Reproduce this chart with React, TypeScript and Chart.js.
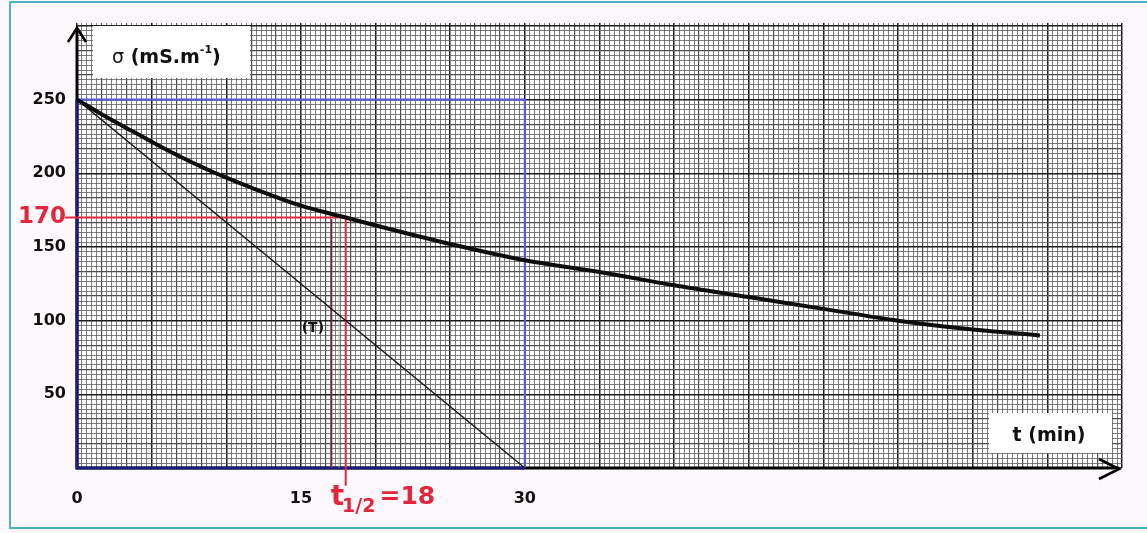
import React, { useEffect, useRef } from "react";
import { Chart, registerables } from "chart.js";

Chart.register(...registerables);

// ---- data ----
const CURVE_T = [0, 2, 4, 6, 8, 10, 12, 15, 18, 21, 25, 30, 35, 40, 45, 50, 55, 60, 64.5];
const CURVE_SIGMA = [250, 238, 227, 216, 206, 197, 189, 178, 170, 162, 152, 141, 133, 124, 116, 108, 100, 94, 90];
const TANGENT_T = [0, 30];
const TANGENT_SIGMA = [250, 0];
const X_TICK_VALUES = [0, 15, 30];
const Y_TICK_VALUES = [50, 100, 150, 170, 200, 250];
const SIGMA_0 = 250;
const SIGMA_HALF = 170;
const T_HALF = 18;
const T_TAU = 30;
const X_MAX = 70;
const Y_MAX = 302;
const FINE_PER_MIN = 3; // graph-paper fine lines per minute
const FINE_PER_UNIT = 0.3; // graph-paper fine lines per mS/m

const FONT = "'DejaVu Sans', sans-serif";
const RED = "#e3263c";
const NAVY = "#1d1d7c";
const BLUE = "#5b5bd6";

const xy = (xs: number[], ys: number[]) => xs.map((x, i) => ({ x, y: ys[i] }));

const lineDs = (data: any[], color: string, width: number, extra: any = {}) => ({
  data,
  borderColor: color,
  borderWidth: width,
  pointRadius: 0,
  fill: false,
  tension: 0,
  ...extra,
});

const gridColor = (ctx: any) => {
  const v = ctx.tick ? ctx.tick.value : 0;
  if (v % 15 === 0) return "#1c1c1c";
  if (v % 5 === 0) return "#4e4e4e";
  return "rgba(95,95,95,0.8)";
};
const gridWidth = (ctx: any) => {
  const v = ctx.tick ? ctx.tick.value : 0;
  if (v % 15 === 0) return 1.5;
  if (v % 5 === 0) return 1.2;
  return 1;
};

const paperPlugin = {
  id: "paper",
  beforeDraw(chart: any) {
    const c = chart.ctx;
    const a = chart.chartArea;
    c.save();
    c.fillStyle = "#fdf9fd";
    c.fillRect(0, 0, chart.width, chart.height);
    c.strokeStyle = "#4fb0c2";
    c.lineWidth = 2;
    c.strokeRect(10, 2, chart.width + 20, 526);
    c.fillStyle = "#ffffff";
    c.fillRect(a.left, a.top, a.right - a.left, a.bottom - a.top);
    c.restore();
  },
  beforeDatasetsDraw(chart: any) {
    const c = chart.ctx;
    const x = chart.scales.x;
    const y = chart.scales.y;
    const a = chart.chartArea;
    const x0 = x.getPixelForValue(0);
    const y0 = y.getPixelForValue(0);
    c.save();
    // white label boxes
    c.fillStyle = "#ffffff";
    c.fillRect(a.left + 16, a.top + 3, 157, 52);
    c.fillRect(a.right - 133, a.bottom - 55, 123, 40);
    // axes
    c.strokeStyle = "#000";
    c.lineWidth = 3;
    c.lineCap = "butt";
    c.beginPath();
    c.moveTo(x0, y0 + 1);
    c.lineTo(x0, a.top + 6);
    c.moveTo(x0 - 1, y0);
    c.lineTo(a.right - 3, y0);
    c.stroke();
    // arrow heads
    c.lineWidth = 2.6;
    c.lineJoin = "miter";
    c.beginPath();
    c.moveTo(x0 - 9, a.top + 19);
    c.lineTo(x0, a.top + 5);
    c.lineTo(x0 + 9, a.top + 19);
    c.moveTo(a.right - 23, y0 - 9);
    c.lineTo(a.right - 3, y0 + 1);
    c.lineTo(a.right - 23, y0 + 11);
    c.stroke();
    c.restore();
  },
  afterDraw(chart: any) {
    const c = chart.ctx;
    const x = chart.scales.x;
    const y = chart.scales.y;
    const a = chart.chartArea;
    c.save();
    c.fillStyle = "#111";
    c.textBaseline = "alphabetic";
    c.textAlign = "left";
    // sigma label
    let px = a.left + 35;
    const by = a.top + 40;
    c.font = `19px ${FONT}`;
    c.fillText("σ", px, by);
    px += c.measureText("σ").width;
    c.font = `bold 19px ${FONT}`;
    c.fillText(" (mS.m", px, by);
    px += c.measureText(" (mS.m").width;
    c.font = `bold 11px ${FONT}`;
    c.fillText("-1", px, by - 10);
    px += c.measureText("-1").width;
    c.font = `bold 19px ${FONT}`;
    c.fillText(")", px, by);
    // t (min)
    c.textAlign = "center";
    c.font = `bold 19px ${FONT}`;
    c.fillText("t (min)", a.right - 73, a.bottom - 27);
    // (T)
    c.font = `bold 14px ${FONT}`;
    c.fillText("(T)", x.getPixelForValue(15.8), y.getPixelForValue(92));
    // t1/2 = 18
    c.fillStyle = RED;
    c.textAlign = "left";
    let tx = x.getPixelForValue(T_HALF) - 15;
    const ty = y.getPixelForValue(0) + 37;
    c.font = `bold 28px ${FONT}`;
    c.fillText("t", tx, ty);
    tx += c.measureText("t").width - 2;
    c.font = `bold 19px ${FONT}`;
    c.fillText("1/2", tx, ty + 7);
    tx += c.measureText("1/2").width + 4;
    c.font = `bold 25px ${FONT}`;
    c.fillText("=" + T_HALF, tx, ty - 1);
    c.restore();
  },
};

export default function App() {
  const ref = useRef<HTMLCanvasElement>(null);

  useEffect(() => {
    const canvas = ref.current as HTMLCanvasElement;
    const chart = new Chart(canvas, {
      type: "line",
      data: {
        datasets: [
          lineDs(xy(CURVE_T, CURVE_SIGMA), "#0d0d0d", 4, { cubicInterpolationMode: "monotone" }),
          lineDs(xy(TANGENT_T, TANGENT_SIGMA), "#1a1a1a", 1.4),
          lineDs(
            [
              { x: -0.8, y: SIGMA_HALF },
              { x: T_HALF, y: SIGMA_HALF },
              { x: T_HALF, y: -12 },
            ],
            RED,
            2,
            { clip: false }
          ),
          lineDs(
            [
              { x: 17.05, y: 0 },
              { x: 17.05, y: SIGMA_HALF - 1 },
            ],
            "#7a2446",
            1.6
          ),
          lineDs(
            [
              { x: 17.55, y: 0 },
              { x: 17.55, y: SIGMA_HALF - 2 },
            ],
            "rgba(110,180,120,0.8)",
            1
          ),
          lineDs(
            [
              { x: 0, y: SIGMA_0 },
              { x: T_TAU, y: SIGMA_0 },
              { x: T_TAU, y: 0 },
            ],
            BLUE,
            2.2
          ),
          lineDs(
            [
              { x: 0, y: SIGMA_0 },
              { x: 0, y: 0 },
              { x: T_TAU, y: 0 },
            ],
            NAVY,
            3.2,
            { clip: false }
          ),
        ],
      },
      options: {
        responsive: false,
        animation: false,
        events: [],
        layout: { padding: { left: 0, right: 25, top: 23, bottom: 0 } },
        plugins: { legend: { display: false }, tooltip: { enabled: false } },
        scales: {
          x: {
            type: "linear",
            position: "bottom",
            min: 0,
            max: X_MAX,
            grid: { display: false, drawTicks: false },
            border: { display: false },
            afterBuildTicks: (s: any) => {
              s.ticks = X_TICK_VALUES.map((v) => ({ value: v }));
            },
            afterFit: (s: any) => {
              s.height = 65;
            },
            ticks: {
              autoSkip: false,
              maxRotation: 0,
              padding: 21,
              color: "#111",
              font: { family: FONT, size: 16, weight: "bold" },
              callback: (v: any) => String(v),
            },
          },
          gx: {
            type: "linear",
            position: "bottom",
            min: 0,
            max: X_MAX * FINE_PER_MIN,
            afterBuildTicks: (s: any) => {
              const n = Math.round(X_MAX * FINE_PER_MIN);
              const t = [];
              for (let i = 0; i <= n; i++) t.push({ value: i });
              s.ticks = t;
            },
            afterFit: (s: any) => {
              s.height = 0;
            },
            grid: { display: true, drawTicks: false, color: gridColor, lineWidth: gridWidth },
            border: { display: false },
            ticks: { display: false },
          },
          y: {
            type: "linear",
            position: "left",
            min: 0,
            max: Y_MAX,
            grid: { display: false, drawTicks: false },
            border: { display: false },
            afterBuildTicks: (s: any) => {
              s.ticks = Y_TICK_VALUES.map((v) => ({ value: v }));
            },
            afterFit: (s: any) => {
              s.width = 77;
            },
            ticks: {
              autoSkip: false,
              padding: 11,
              color: (ctx: any) => (ctx.tick && ctx.tick.value === SIGMA_HALF ? RED : "#111"),
              font: (ctx: any) =>
                ctx.tick && ctx.tick.value === SIGMA_HALF
                  ? { family: FONT, size: 23, weight: "bold" }
                  : { family: FONT, size: 16, weight: "bold" },
              callback: (v: any) => String(v),
            },
          },
          gy: {
            type: "linear",
            position: "left",
            min: 0,
            max: Y_MAX * FINE_PER_UNIT,
            afterBuildTicks: (s: any) => {
              const n = Math.floor(Y_MAX * FINE_PER_UNIT);
              const t = [];
              for (let i = 0; i <= n; i++) t.push({ value: i });
              s.ticks = t;
            },
            afterFit: (s: any) => {
              s.width = 0;
            },
            grid: { display: true, drawTicks: false, color: gridColor, lineWidth: gridWidth },
            border: { display: false },
            ticks: { display: false },
          },
        },
      } as any,
      plugins: [paperPlugin],
    });
    return () => chart.destroy();
  }, []);

  return (
    <div style={{ position: "fixed", left: 0, top: 0, width: 1147, height: 533 }}>
      <canvas ref={ref} width={1147} height={533} style={{ display: "block" }} />
    </div>
  );
}
